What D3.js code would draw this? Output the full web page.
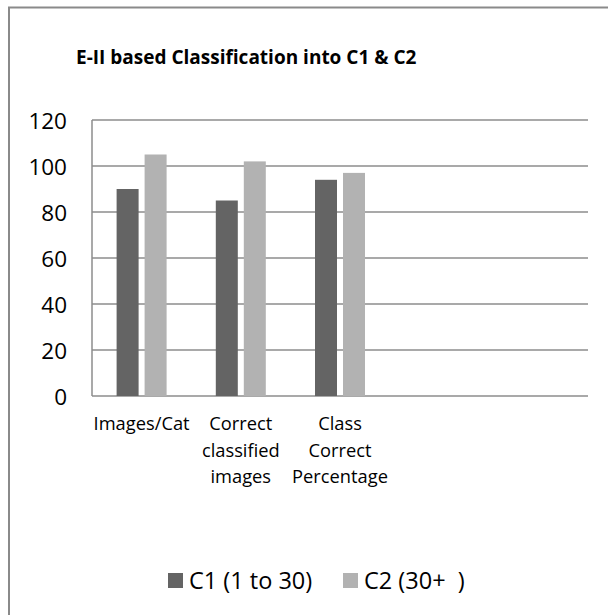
<!DOCTYPE html>
<html>
<head>
<meta charset="utf-8">
<script src="https://cdn.jsdelivr.net/npm/d3@7"></script>
<style>
body { margin: 0; background: #fff; }
svg { display: block; font-family: "Open Sans", sans-serif; }
</style>
</head>
<body>
<svg id="chart" width="608" height="615"></svg>
<script>
const title = "E-II based Classification into C1 & C2";
const categories = ["Images/Cat", "Correct classified images", "Class Correct Percentage", "", " "];
const seriesNames = ["C1 (1 to 30)", "C2 (30+  )"];
const c1Values = [90, 85, 94, null, null];
const c2Values = [105, 102, 97, null, null];
const yTicks = [0, 20, 40, 60, 80, 100, 120];
const colors = ["#646464", "#b2b2b2"];

const svg = d3.select("#chart");
const pLeft = 92, pRight = 588, pTop = 120, pBottom = 396;

svg.append("rect").attr("x", 9).attr("y", 7.5).attr("width", 640).attr("height", 640)
  .attr("fill", "#fff").attr("stroke", "#8a8a8a").attr("stroke-width", 2);

svg.append("text").attr("x", 76).attr("y", 64).attr("font-weight", "bold")
  .attr("font-size", 19).attr("fill", "#000").text(title);

const x = d3.scaleBand().domain(categories).range([pLeft, pRight]);
const y = d3.scaleLinear().domain([0, 120]).range([pBottom, pTop]);

// gridlines
svg.append("g").selectAll("line").data(yTicks).join("line")
  .attr("x1", pLeft).attr("x2", pRight)
  .attr("y1", d => y(d)).attr("y2", d => y(d))
  .attr("stroke", "#8c8c8c").attr("stroke-width", 1.5);
svg.append("line").attr("x1", pLeft).attr("x2", pLeft).attr("y1", pTop).attr("y2", pBottom)
  .attr("stroke", "#8c8c8c").attr("stroke-width", 1.5);

// y axis labels
const yAxis = d3.axisLeft(y).tickValues(yTicks).tickSize(0).tickPadding(0);
const ya = svg.append("g").attr("transform", `translate(67,0)`).call(yAxis);
ya.select(".domain").remove();
ya.selectAll("text").attr("font-size", 22.5).attr("font-family", "'Open Sans', sans-serif")
  .attr("fill", "#000").attr("dy", "0.36em");

// bars
const barW = 22, gap = 6;
const series = [c1Values, c2Values];
series.forEach((vals, si) => {
  svg.append("g").selectAll("rect")
    .data(categories.map((c, i) => ({c, v: vals[i]})).filter(d => d.v != null))
    .join("rect")
    .attr("x", d => x(d.c) + x.bandwidth() / 2 + (si === 0 ? -(barW + gap / 2) : gap / 2))
    .attr("width", barW)
    .attr("y", d => y(d.v))
    .attr("height", d => y(0) - y(d.v))
    .attr("fill", colors[si]);
});

// x labels
const xl = svg.append("g");
categories.forEach(c => {
  const words = c.trim() ? c.split(" ") : [];
  const t = xl.append("text").attr("text-anchor", "middle").attr("font-size", 18.3).attr("fill", "#000");
  words.forEach((w, i) => {
    t.append("tspan").attr("x", x(c) + x.bandwidth() / 2).attr("y", 430 + i * 26.5).text(w);
  });
});

// legend
const lg = svg.append("g");
const legX = [168, 343];
seriesNames.forEach((n, i) => {
  lg.append("rect").attr("x", legX[i]).attr("y", 573).attr("width", 15).attr("height", 15).attr("fill", colors[i]);
  lg.append("text").attr("x", legX[i] + 21).attr("y", 589).attr("font-size", 23.5).attr("fill", "#000")
    .attr("xml:space", "preserve").style("white-space", "pre").text(n);
});
</script>
</body>
</html>
